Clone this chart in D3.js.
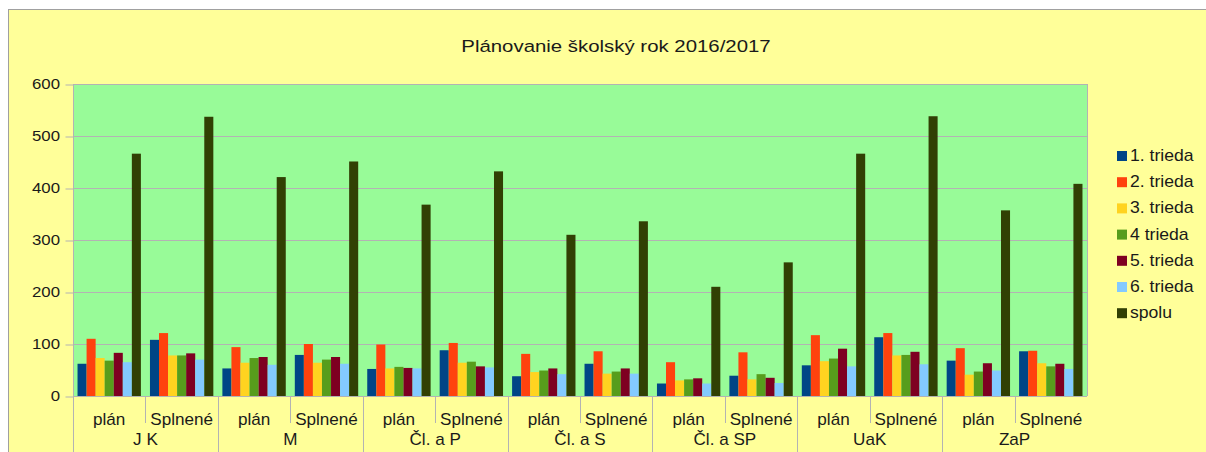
<!DOCTYPE html>
<html>
<head>
<meta charset="utf-8">
<script src="https://cdn.jsdelivr.net/npm/d3@7"></script>
<style>
  body { margin: 0; background: #ffffff; }
  text { font-family: "Liberation Sans", Arial, sans-serif; fill: #1a1a1a; }
</style>
</head>
<body>
<script>
// Data
let groups = ["J K", "M", "Čl. a P", "Čl. a S", "Čl. a SP", "UaK", "ZaP"];
let phases = ["plán", "Splnené"];
let seriesNames = ["1. trieda", "2. trieda", "3. trieda", "4 trieda", "5. trieda", "6. trieda", "spolu"];

let trieda1 = [62, 108, 53, 79, 52, 88, 38, 62, 24, 39, 59, 113, 68, 86];
let trieda2 = [110, 121, 94, 100, 99, 102, 81, 86, 65, 84, 117, 121, 92, 87];
let trieda3 = [73, 78, 64, 64, 53, 64, 46, 43, 30, 32, 67, 78, 41, 63];
let trieda4 = [68, 78, 73, 70, 56, 66, 49, 47, 32, 42, 72, 79, 47, 57];
let trieda5 = [83, 82, 75, 75, 54, 57, 53, 53, 34, 35, 91, 85, 63, 62];
let trieda6 = [65, 70, 60, 62, 53, 55, 42, 43, 24, 25, 57, 61, 49, 52];
let spolu = [466, 537, 421, 451, 368, 432, 310, 336, 210, 257, 466, 538, 357, 408];

let yTicks = [0, 100, 200, 300, 400, 500, 600];
let colors = ["#004586", "#ff420e", "#ffd320", "#579d1c", "#7e0021", "#83caff", "#314004"];

let allSeries = [trieda1, trieda2, trieda3, trieda4, trieda5, trieda6, spolu];

// SVG area
let svgWidth = 1206;
let svgHeight = 452;

let plot = { left: 73, right: 1087, top: 84, bottom: 396 };

let svg = d3.select("body")
  .append("svg")
  .attr("width", svgWidth)
  .attr("height", svgHeight);

// the original text looks stretched sideways, so draw it scaled in x
function addText(parent, x, y, str, size, sx, anchor) {
  return parent.append("text")
    .attr("transform", `translate(${x}, ${y}) scale(${sx}, 1)`)
    .attr("text-anchor", anchor || "start")
    .style("font-size", size + "px")
    .text(str);
}

// chart background with border
svg.append("rect")
  .attr("x", 8.5)
  .attr("y", 9.5)
  .attr("width", svgWidth)
  .attr("height", svgHeight)
  .attr("fill", "#ffff99")
  .attr("stroke", "#a0a0a0");

// title
addText(svg, 616, 52, "Plánovanie školský rok 2016/2017", 17, 1.2, "middle");

// categories = group x phase
let categories = [];
groups.forEach(g => phases.forEach(p => categories.push(g + "|" + p)));

let xScale = d3.scaleBand()
  .domain(categories)
  .range([plot.left, plot.right]);

let xSeries = d3.scaleBand()
  .domain(seriesNames)
  .range([0, xScale.bandwidth()])
  .paddingOuter(0.5);

let yScale = d3.scaleLinear()
  .domain([0, 600])
  .range([plot.bottom, plot.top]);

// plot area
svg.append("rect")
  .attr("x", plot.left)
  .attr("y", plot.top)
  .attr("width", plot.right - plot.left)
  .attr("height", plot.bottom - plot.top)
  .attr("fill", "#98fb98");

// grid lines
svg.append("g")
  .selectAll("line")
  .data(yTicks)
  .enter()
  .append("line")
  .attr("x1", plot.left)
  .attr("x2", plot.right)
  .attr("y1", d => Math.round(yScale(d)) + 0.5)
  .attr("y2", d => Math.round(yScale(d)) + 0.5)
  .attr("stroke", "#b3b3b3");

// right border of plot
svg.append("line")
  .attr("x1", plot.right + 0.5).attr("x2", plot.right + 0.5)
  .attr("y1", plot.top).attr("y2", plot.bottom)
  .attr("stroke", "#b3b3b3");

// y axis (ticks from d3, labels drawn stretched)
let yAxis = d3.axisLeft(yScale).tickValues(yTicks).tickSize(8).tickFormat("");
let yG = svg.append("g")
  .attr("transform", `translate(${plot.left + 0.5}, 0.5)`)
  .call(yAxis);
yG.select(".domain").remove();
yG.selectAll("line").attr("stroke", "#b3b3b3");

yTicks.forEach(t => {
  addText(svg, 60, yScale(t) + 5, t, 14, 1.2, "end");
});

// axis line running down through label area
svg.append("line")
  .attr("x1", plot.left + 0.5).attr("x2", plot.left + 0.5)
  .attr("y1", plot.top).attr("y2", svgHeight)
  .attr("stroke", "#b3b3b3");

// bars
let barData = [];
allSeries.forEach((vals, si) => {
  vals.forEach((v, ci) => {
    barData.push({ cat: categories[ci], series: seriesNames[si], value: v, color: colors[si] });
  });
});

svg.append("g")
  .selectAll(".bar")
  .data(barData)
  .enter()
  .append("rect")
  .classed("bar", true)
  .attr("x", d => xScale(d.cat) + xSeries(d.series))
  .attr("width", xSeries.bandwidth())
  .attr("y", d => yScale(d.value))
  .attr("height", d => yScale(0) - yScale(d.value))
  .attr("fill", d => d.color);

// category separators and labels
let sepG = svg.append("g");
categories.forEach((c, i) => {
  if (i > 0) {
    let x = Math.round(xScale(c)) + 0.5;
    sepG.append("line")
      .attr("x1", x).attr("x2", x)
      .attr("y1", plot.bottom)
      .attr("y2", i % 2 === 0 ? svgHeight : plot.bottom + 27)
      .attr("stroke", "#b3b3b3");
  }
  addText(svg, xScale(c) + xScale.bandwidth() / 2, 425, c.split("|")[1], 16, 1.07, "middle");
});

// group labels
groups.forEach(g => {
  addText(svg, xScale(g + "|" + phases[0]) + xScale.bandwidth(), 445, g, 16, 1.07, "middle");
});

// legend
let legend = svg.append("g")
  .attr("transform", "translate(1117, 151)");

let legendRows = legend.selectAll(".legend-row")
  .data(seriesNames)
  .enter()
  .append("g")
  .attr("transform", (d, i) => `translate(0, ${i * 26.2})`);

legendRows.append("rect")
  .attr("width", 10)
  .attr("height", 10)
  .attr("fill", (d, i) => colors[i]);

legendRows.each(function(d) {
  addText(d3.select(this), 13, 10, d, 16, 1.1);
});
</script>
</body>
</html>
